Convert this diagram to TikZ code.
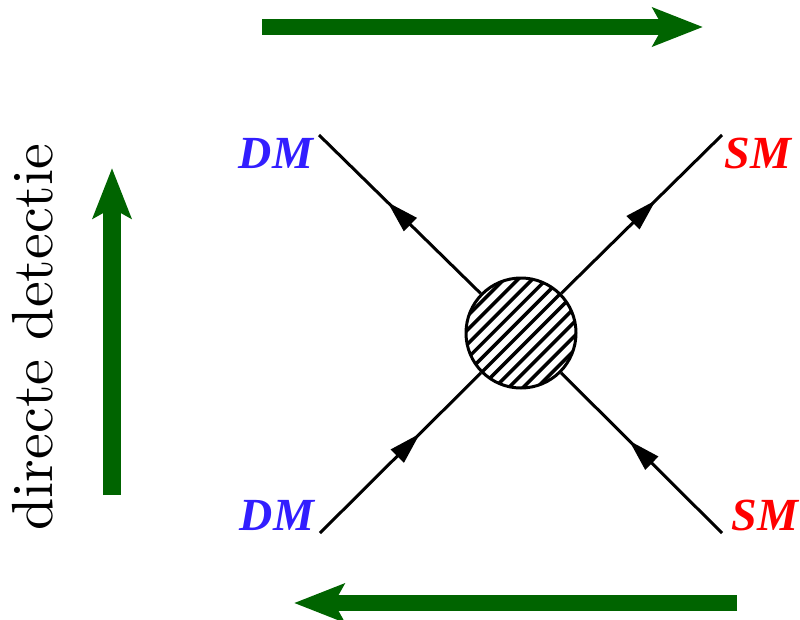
\documentclass[tikz,border=0pt]{standalone}
\usepackage{fontspec}
\newfontfamily\labfont{Liberation Serif}
\usetikzlibrary{arrows.meta,decorations.markings,calc}
\definecolor{dmblue}{RGB}{50,30,255}
\definecolor{smred}{RGB}{255,0,0}
\definecolor{dgreen}{RGB}{0,100,0}
\tikzset{
  fermion/.style={line width=3pt},
  fin/.style={fermion,postaction={decorate},decoration={markings,
     mark=at position #1 with {\arrow{Triangle[length=32pt,width=18pt]}}}},
  fout/.style={fermion,postaction={decorate},decoration={markings,
     mark=at position #1 with {\arrowreversed{Triangle[length=32pt,width=18pt]}}}},
  garrow/.style={draw=dgreen,line width=16pt,-{Stealth[length=50pt,width=38pt,inset=10pt]}},
  dmlab/.style={text=dmblue,inner sep=0pt,font=\labfont\bfseries\itshape\fontsize{46}{50}\selectfont},
  smlab/.style={text=smred,inner sep=0pt,font=\labfont\bfseries\itshape\fontsize{46}{50}\selectfont},
  blob/.style={circle,draw,line width=3pt,minimum size=110pt,inner sep=0pt,
    path picture={
      \foreach \k in {-9,...,9}{
        \draw[line width=3.5pt] ($(path picture bounding box.center)+(\k*14.14-80,80)$) -- ++(160,-160);
      }}},
}
\begin{document}
\begin{tikzpicture}[x=1pt,y=-1pt]
\useasboundingbox (0,0) rectangle (800,619);
% vertex
\node[blob] (c) at (521,333) {};
\coordinate (tl) at (319,135);
\coordinate (tr) at (722,135);
\coordinate (bl) at (320,533);
\coordinate (br) at (722,533);
\draw[fout=96pt] (tl) -- (c);
\draw[fout=93pt] (tr) -- (c);
\draw[fin=141pt] (bl) -- (c);
\draw[fin=131pt] (br) -- (c);
% labels
\node[dmlab] (dm1) at (276,153) {DM};
\node[dmlab] (dm2) at (277,515) {DM};
\node[smlab] (sm1) at (758,153) {SM};
\node[smlab] (sm2) at (765,515) {SM};
% green arrows
\coordinate (ta1) at (262,27);
\coordinate (ta2) at (703,27);
\draw[garrow] (ta1) -- (ta2);
\coordinate (ba1) at (737,603);
\coordinate (ba2) at (294,603);
\draw[garrow] (ba1) -- (ba2);
\coordinate (la1) at (112,495);
\coordinate (la2) at (112,168);
\draw[garrow,line width=18pt] (la1) -- (la2);
% side text
\node[rotate=90,scale=5.8,inner sep=0pt,font=\fontsize{10}{12}\selectfont] (txt) at (33,337) {directe detectie};
\end{tikzpicture}
\end{document}
